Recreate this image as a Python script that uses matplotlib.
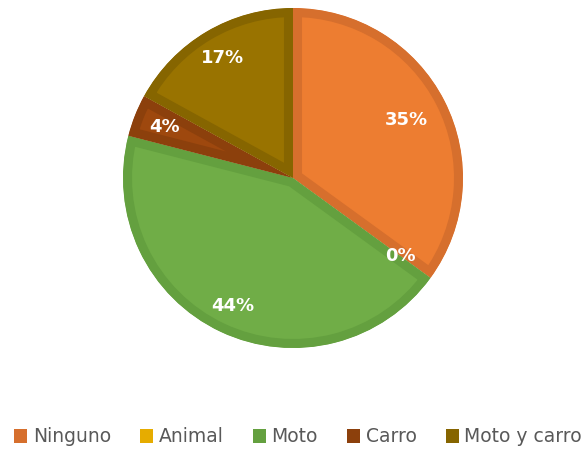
import numpy as np
import matplotlib.pyplot as plt
from matplotlib.patches import Patch

categories = ["Ninguno", "Animal", "Moto", "Carro", "Moto y carro"]
values = [35, 0, 44, 4, 17]
labels = ["35%", "0%", "44%", "4%", "17%"]
fill_colors = ["#ED7D31", "#FFC000", "#70AD47", "#9E480E", "#997300"]
edge_colors = ["#D66F2D", "#E6AC00", "#64A03F", "#8C400C", "#866500"]

fig = plt.figure(figsize=(5.86, 4.5), dpi=100)
ax = fig.add_axes([123 / 586, 102 / 450, 340 / 586, 340 / 450])

wedges, _ = ax.pie(values, colors=fill_colors, startangle=90, counterclock=False,
                   radius=1.0, wedgeprops=dict(linewidth=13))
for w, ec in zip(wedges, edge_colors):
    w.set_edgecolor(ec)
    w.set_clip_path(w)
    w.set_clip_on(True)

# percentage labels at wedge mid-angles
dist = [0.75, 0.78, 0.83, 0.81, 0.82]
start = 90.0
total = sum(values)
for v, lab, d in zip(values, labels, dist):
    span = 360.0 * v / total
    mid = np.deg2rad(start - span / 2)
    ax.text(d * np.cos(mid), d * np.sin(mid), lab, ha="center", va="center",
            color="white", fontsize=13, fontweight="bold")
    start -= span

ax.set_xlim(-1.0, 1.0)
ax.set_ylim(-1.0, 1.0)
ax.set_aspect("equal")
ax.axis("off")

handles = [Patch(facecolor=c, edgecolor="none") for c in edge_colors]
fig.legend(handles, categories, loc="center", bbox_to_anchor=(298 / 586, 1 - 437 / 450),
           ncol=5, frameon=False, fontsize=13.5, handlelength=0.7, handleheight=0.7,
           handletextpad=0.3, columnspacing=1.55, labelcolor="#595959")

fig.savefig("out.png", dpi=100)
